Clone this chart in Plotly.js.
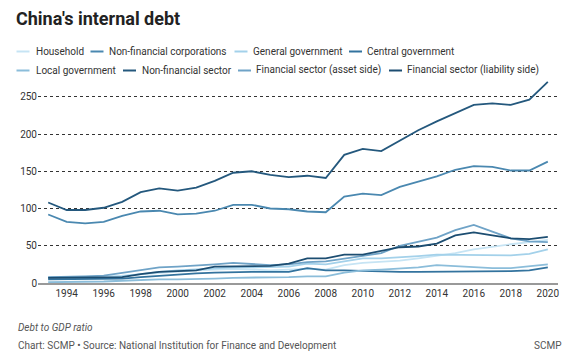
<!DOCTYPE html>
<html>
<head>
<meta charset="utf-8">
<script src="https://cdn.plot.ly/plotly-3.0.1.min.js"></script>
<style>
html,body{margin:0;padding:0;background:#fff;}
#chart{width:580px;height:363px;}
</style>
</head>
<body>
<div id="chart"></div>
<script>
var years = [1993,1994,1995,1996,1997,1998,1999,2000,2001,2002,2003,2004,2005,2006,2007,2008,2009,2010,2011,2012,2013,2014,2015,2016,2017,2018,2019,2020];

var household = [8,8,8,9,10,12,14,16,17,18,19,18,17,18,19,18,24,27,28,30,33,36,40,45,49,52,55,58];
var nonFinancialCorporations = [92,82,80,82,90,96,97,92,93,97,105,105,100,99,96,95,116,120,118,129,136,143,152,157,156,151,151,163];
var generalGovernment = [6,6,6,7,9,12,15,17,18,20,21,21,21,22,26,25,29,33,33,34,36,38,38,37,37,37,39,45];
var centralGovernment = [5,5,5,5,6,8,10,12,13,14,15,15,15,15,20,17,17,16,15,15,15,15,15,16,16,16,17,21];
var localGovernment = [1,1,1,2,3,4,5,5,6,6,7,7,8,8,9,9,14,17,18,19,21,24,23,21,20,20,22,25];
var nonFinancialSector = [108,98,98,101,109,122,127,124,128,137,148,150,145,142,144,141,172,180,177,191,205,217,228,239,241,239,246,270];
var financialAsset = [8,8,9,10,14,18,21,22,23,25,27,25,24,25,28,29,33,36,40,50,55,61,71,78,69,60,56,55];
var financialLiability = [7,7,7,7,8,12,15,16,17,22,22,22,23,26,33,33,38,38,43,48,49,53,64,68,64,60,59,62];

var seriesNames = ["Household","Non-financial corporations","General government","Central government","Local government","Non-financial sector","Financial sector (asset side)","Financial sector (liability side)"];
var seriesValues = [household,nonFinancialCorporations,generalGovernment,centralGovernment,localGovernment,nonFinancialSector,financialAsset,financialLiability];
var seriesColors = ["#c6e4f4","#4a88b0","#a3d1ea","#33739e","#8bbdda","#24587d","#6fa3c7","#1c4d71"];

var xTicks = [1994,1996,1998,2000,2002,2004,2006,2008,2010,2012,2014,2016,2018,2020];
var yTicks = [0,50,100,150,200,250];

var W = 580, H = 363;
var M = {l:38, r:22, t:80, b:80};
var pw = W - M.l - M.r, ph = H - M.t - M.b;
function px(x){ return (x - M.l) / pw; }
function py(y){ return (H - M.b - y) / ph; }

var traces = seriesNames.map(function(n,i){
  return {x: years, y: seriesValues[i], name: n, type:'scatter', mode:'lines',
          line:{color: seriesColors[i], width:1.8}, hoverinfo:'skip', showlegend:false};
});

// legend positions (pixel layout)
var legPos = [
  {lx:16.5, tx:34, y:51.5},{lx:90.5, tx:107, y:51.5},{lx:234.5, tx:251, y:51.5},{lx:349, tx:365, y:51.5},
  {lx:16.5, tx:34, y:70.5},{lx:123, tx:139.5, y:70.5},{lx:238, tx:254, y:70.5},{lx:389, tx:405, y:70.5}
];
var shapes = [], annotations = [];
seriesNames.forEach(function(n,i){
  var p = legPos[i];
  shapes.push({type:'line', xref:'paper', yref:'paper', x0:px(p.lx), x1:px(p.lx+13), y0:py(p.y), y1:py(p.y),
               line:{color:seriesColors[i], width:2}});
  annotations.push({xref:'paper', yref:'paper', x:px(p.tx), y:py(p.y), xanchor:'left', yanchor:'middle',
                    text:n, showarrow:false, font:{family:'Roboto', size:10, color:'#333'}});
});
annotations.push({xref:'paper', yref:'paper', x:px(16), y:py(327), xanchor:'left', yanchor:'middle',
  text:'<i>Debt to GDP ratio</i>', showarrow:false, font:{family:'Roboto', size:10, color:'#555'}});
annotations.push({xref:'paper', yref:'paper', x:px(16), y:py(345), xanchor:'left', yanchor:'middle',
  text:'Chart: SCMP • Source: National Institution for Finance and Development', showarrow:false, font:{family:'Roboto', size:10, color:'#555'}});
annotations.push({xref:'paper', yref:'paper', x:px(564), y:py(345), xanchor:'right', yanchor:'middle',
  text:'SCMP', showarrow:false, font:{family:'Roboto', size:10, color:'#555'}});

var layout = {
  width:W, height:H, margin:M, paper_bgcolor:'#fff', plot_bgcolor:'#fff',
  font:{family:'Roboto', size:10, color:'#333'},
  title:{text:"<b>China's internal debt</b>", x:16/W, xref:'container', xanchor:'left',
         y:1-19/H, yref:'container', yanchor:'middle', font:{family:'Roboto', size:18, color:'#222'}},
  xaxis:{range:[1992.45,2020.55], tickvals:xTicks, ticktext:xTicks.map(String), showgrid:false, zeroline:false,
         showline:true, linecolor:'#999', linewidth:1.5, ticks:'', tickfont:{size:10, color:'#333'}},
  yaxis:{range:[0,272.5], tickvals:yTicks, ticktext:yTicks.map(String), showgrid:true, gridcolor:'#333',
         griddash:'dot', gridwidth:1, zeroline:false, showline:false, ticks:'', tickfont:{size:10, color:'#333'}},
  shapes:shapes, annotations:annotations, showlegend:false
};
Plotly.newPlot('chart', traces, layout, {displayModeBar:false, staticPlot:true});
</script>
</body>
</html>
